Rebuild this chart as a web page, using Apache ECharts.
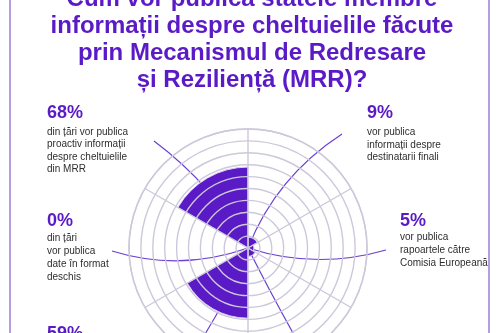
<!DOCTYPE html>
<html>
<head>
<meta charset="utf-8">
<script src="https://cdn.jsdelivr.net/npm/echarts@6/dist/echarts.min.js"></script>
<style>
  html, body { margin: 0; padding: 0; background: #fff; }
  #chart { width: 500px; height: 333px; }
</style>
</head>
<body>
<div id="chart"></div>
<script>
// sectors, clockwise from the top
const categories = ['destinatari finali', 'rapoarte către Comisie', 'altele', 'altele 2', 'date deschise', 'cheltuieli MRR']
const values = [9, 5, 7, 59, 0, 68]
const notes = [
    'vor publica\ninformații despre\ndestinatarii finali',
    'vor publica\nrapoartele către\nComisia Europeană',
    '',
    '',
    'din țări\nvor publica\ndate în format\ndeschis',
    'din țări vor publica\nproactiv informații\ndespre cheltuielile\ndin MRR'
]
const radiusTicks = [0, 10, 20, 30, 40, 50, 60, 70, 80, 90, 100]

const PURPLE = '#5a1bc6'
const FONT = '"Liberation Sans", Arial, sans-serif'

// where each label block sits (pct x, pct y, note y, note line height)
const labelPos = [
    [367, 104, 126, 12.5],
    [400, 212, 231, 13],
    null,
    [47, 325, 346, 13],
    [47, 212, 232, 13],
    [47, 104, 125.5, 12.5]
]

const setChart = () => {
    let myChart = echarts.init(document.getElementById('chart'))

    let graphics = []

    // cadrul
    graphics.push({
        type: 'rect',
        shape: { x: 10, y: -10, width: 479, height: 360 },
        style: { fill: 'none', stroke: '#6c3ccc', lineWidth: 1 },
        z: 0
    })

    // linii decorative prin centru
    const curves = [
        [154, 141, 214, 186, 248, 248],
        [248, 248, 232, 292, 200, 342],
        [342, 134, 276, 177, 248, 248],
        [248, 248, 270, 292, 298, 342],
        [112, 251, 180, 272, 248, 248],
        [248, 248, 316, 270, 386, 250]
    ]
    curves.map(c => {
        graphics.push({
            type: 'bezierCurve',
            shape: { x1: c[0], y1: c[1], cpx1: c[2], cpy1: c[3], x2: c[4], y2: c[5] },
            style: { stroke: '#6a3fd2', lineWidth: 1.2, fill: 'none' },
            z: 1
        })
    })

    labelPos.map((p, i) => {
        if (!p) return
        graphics.push({
            type: 'text',
            x: p[0], y: p[1],
            style: {
                text: values[i] + '%',
                font: 'bold 18px ' + FONT,
                fill: PURPLE,
                textVerticalAlign: 'top'
            },
            z: 10
        })
        if (notes[i]) {
            graphics.push({
                type: 'text',
                x: p[0], y: p[2],
                style: {
                    text: notes[i],
                    font: '10px ' + FONT,
                    lineHeight: p[3],
                    fill: '#2e2e2e',
                    textVerticalAlign: 'top'
                },
                z: 10
            })
        }
    })

    let option = {
        animation: false,
        backgroundColor: '#fff',
        title: {
            text: 'Cum vor publica statele membre\ninformații despre cheltuielile făcute\nprin Mecanismul de Redresare\nși Reziliență (MRR)?',
            left: 247,
            top: -19,
            textAlign: 'center',
            textStyle: {
                fontFamily: FONT,
                fontSize: 24,
                fontWeight: 'bold',
                lineHeight: 27,
                color: PURPLE
            }
        },
        polar: {
            center: [248, 248],
            radius: 119
        },
        angleAxis: {
            type: 'category',
            data: categories,
            startAngle: 90,
            z: 3,
            axisLine: { show: true, lineStyle: { color: '#cdc8da', width: 1.4 } },
            axisTick: { show: false },
            axisLabel: { show: false },
            splitLine: { show: true, lineStyle: { color: '#cdc8da', width: 1.4 } }
        },
        radiusAxis: {
            min: radiusTicks[0],
            max: radiusTicks[radiusTicks.length - 1],
            interval: 10,
            z: 3,
            axisLine: { show: false },
            axisTick: { show: false },
            axisLabel: { show: false },
            splitLine: { show: true, lineStyle: { color: '#cdc8da', width: 1.4 } }
        },
        series: [{
            type: 'bar',
            coordinateSystem: 'polar',
            data: values,
            barCategoryGap: '0%',
            itemStyle: { color: PURPLE, borderColor: '#dccff3', borderWidth: 1 },
            z: 2
        }],
        graphic: graphics
    }

    myChart.setOption(option)
}

setChart()
</script>
</body>
</html>
